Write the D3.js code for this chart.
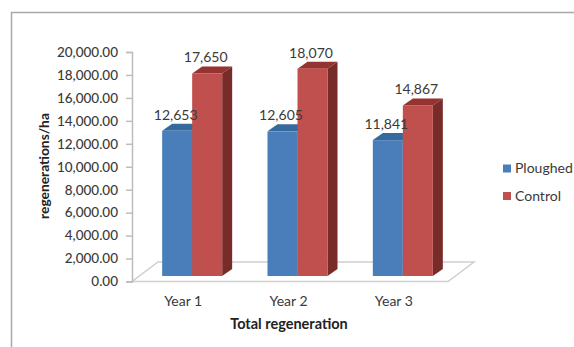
<!DOCTYPE html>
<html>
<head>
<meta charset="utf-8">
<script src="https://cdn.jsdelivr.net/npm/d3@7"></script>
<style>
  html, body { margin: 0; padding: 0; background: #fff; }
  svg { display: block; }
  text { font-family: Lato, "Open Sans", sans-serif; fill: #3a3a3a; }
</style>
</head>
<body>
<svg id="chart" width="574" height="347"></svg>
<script>
const categories = ["Year 1", "Year 2", "Year 3"];
const seriesNames = ["Ploughed", "Control"];
const ploughed = [12653, 12605, 11841];
const control = [17650, 18070, 14867];
const yTicks = [0, 2000, 4000, 6000, 8000, 10000, 12000, 14000, 16000, 18000, 20000];

const frontColors = ["#4a7ebb", "#c0504d"];
const topColors = ["#376a9c", "#94332f"];
const sideColors = ["#2f5a86", "#772c2a"];

const svg = d3.select("#chart");

// Panel frame: only the top and left edges are visible
svg.append("path")
  .attr("d", "M11.5,347V12.5H574")
  .attr("fill", "none")
  .attr("stroke", "#a8a8a8")
  .attr("stroke-width", 1.5);

const plot = { left: 132, right: 448, top: 52, bottom: 281.5 };
const depth = { x: 10, y: -7 };        // oblique offset of the bars
const floorDepth = { x: 26, y: -19.5 };  // oblique offset of the floor
const barLift = 5.5;                   // bars stand slightly behind the front edge

const x = d3.scaleBand().domain(categories).range([plot.left, plot.right]);
const y = d3.scaleLinear().domain([0, 20000]).range([plot.bottom, plot.top]);
const barWidth = 30;
const barStart = c => x(c) + x.bandwidth() / 2 - barWidth + 7.5;

// Floor of the 3-D plot
const f = floorDepth;
svg.append("polygon")
  .attr("points", [
    [plot.left, plot.bottom],
    [plot.right, plot.bottom],
    [plot.right + f.x, plot.bottom + f.y],
    [plot.left + f.x, plot.bottom + f.y]
  ].join(" "))
  .attr("fill", "#fff")
  .attr("stroke", "#cfcfcf")
  .attr("stroke-width", 1.5);

// Value axis
const yAxis = d3.axisLeft(y)
  .tickValues(yTicks)
  .tickFormat(d3.format(",.2f"))
  .tickSize(6)
  .tickPadding(8);
const yG = svg.append("g").attr("transform", `translate(${plot.left},0)`).call(yAxis);
yG.selectAll("path, line").attr("stroke", "#bdbdbd").attr("stroke-width", 1.5);
yG.selectAll("text").attr("font-size", 13.5).attr("font-weight", 500).style("fill", "#3a3a3a");

// Draw one series as oblique boxes
[ploughed, control].forEach((values, s) => {
  const g = svg.append("g").attr("class", "series-" + s);
  categories.forEach((c, i) => {
    const x0 = barStart(c) + s * barWidth;
    const x1 = x0 + barWidth;
    const yBase = plot.bottom - barLift;
    const yTop = y(values[i]) - barLift;
    g.append("polygon")
      .attr("points", [[x0, yTop], [x1, yTop], [x1 + depth.x, yTop + depth.y], [x0 + depth.x, yTop + depth.y]].join(" "))
      .attr("fill", topColors[s]);
    g.append("polygon")
      .attr("points", [[x1, yTop], [x1 + depth.x, yTop + depth.y], [x1 + depth.x, yBase + depth.y], [x1, yBase]].join(" "))
      .attr("fill", sideColors[s]);
    g.append("rect")
      .attr("x", x0).attr("y", yTop)
      .attr("width", barWidth).attr("height", yBase - yTop)
      .attr("fill", frontColors[s]);
  });
});

// Value labels, drawn above all bars
[ploughed, control].forEach((values, s) => {
  categories.forEach((c, i) => {
    svg.append("text")
      .attr("x", barStart(c) + s * barWidth + barWidth / 2 - 1.5)
      .attr("y", y(values[i]) - barLift - 16)
      .attr("dy", "0.35em")
      .attr("text-anchor", "middle")
      .attr("font-size", 14)
      .text(d3.format(",")(values[i]));
  });
});

// Category labels
categories.forEach(c => {
  svg.append("text")
    .attr("x", x(c) + x.bandwidth() / 2 - 1.5)
    .attr("y", 301)
    .attr("dy", "0.35em")
    .attr("text-anchor", "middle")
    .attr("font-size", 14)
    .text(c);
});

// Axis titles
svg.append("text")
  .attr("x", 289).attr("y", 324).attr("dy", "0.35em")
  .attr("text-anchor", "middle")
  .attr("font-size", 14.5).attr("font-weight", 700)
  .style("fill", "#222")
  .text("Total regeneration");
svg.append("text")
  .attr("transform", "translate(44,166) rotate(-90)")
  .attr("dy", "0.35em")
  .attr("text-anchor", "middle")
  .attr("font-size", 13.8).attr("font-weight", 700)
  .style("fill", "#222")
  .text("regenerations/ha");

// Legend
seriesNames.forEach((name, i) => {
  const ly = 168.5 + i * 27.5;
  svg.append("rect")
    .attr("x", 503).attr("y", ly - 4).attr("width", 8).attr("height", 8)
    .attr("fill", frontColors[i]);
  svg.append("text")
    .attr("x", 515).attr("y", ly).attr("dy", "0.35em")
    .attr("font-size", 14)
    .text(name);
});
</script>
</body>
</html>
